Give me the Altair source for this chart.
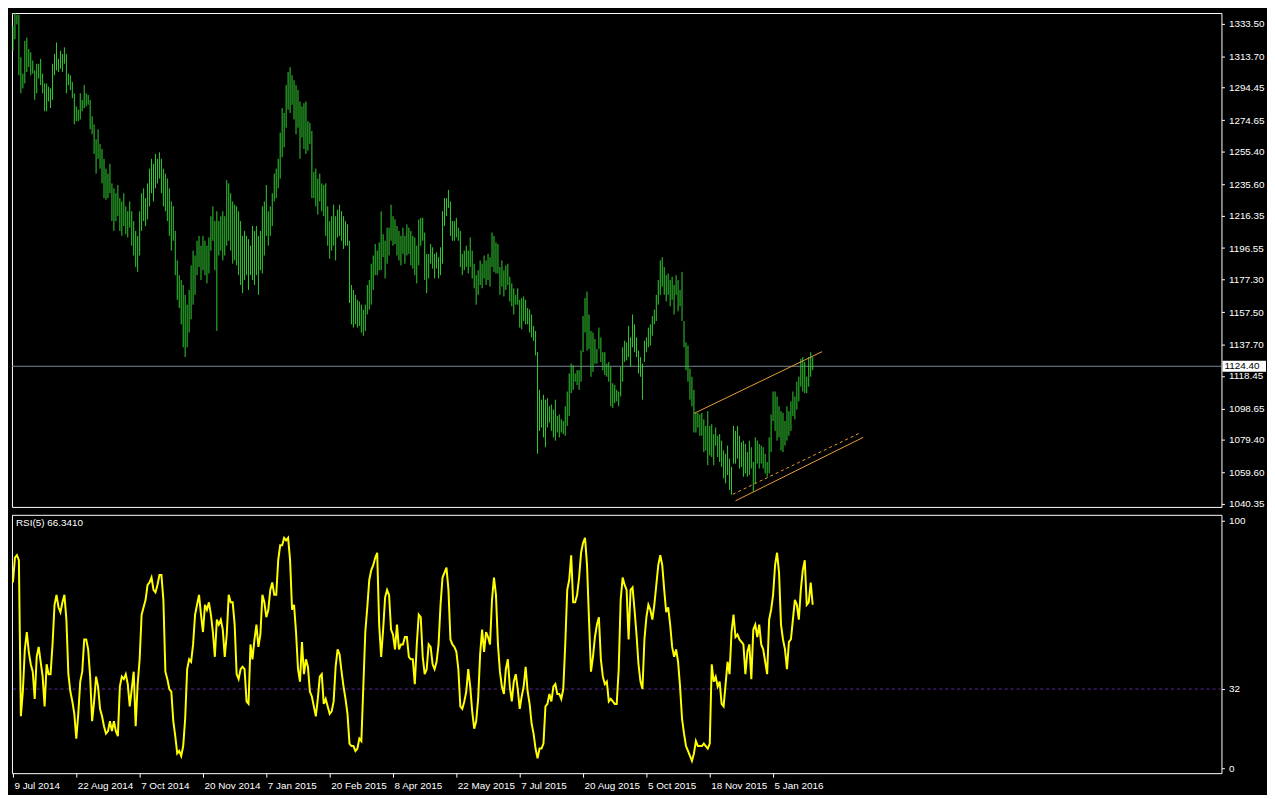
import altair as alt
import pandas as pd

# ---------------- data ----------------
bar_high = [
    1332, 1340, 1339, 1339, 1313, 1303, 1323, 1325, 1318, 1316,
    1311, 1305, 1309, 1309, 1312, 1303, 1297, 1297, 1295, 1294,
    1309, 1315, 1322, 1312, 1317, 1315, 1319, 1315, 1303, 1302,
    1298, 1291, 1283, 1281, 1291, 1287, 1296, 1291, 1290, 1287,
    1277, 1272, 1263, 1269, 1260, 1257, 1251, 1245, 1242, 1248,
    1236, 1233, 1230, 1235, 1227, 1225, 1230, 1222, 1219, 1225,
    1219, 1213, 1207, 1204, 1219, 1230, 1233, 1227, 1236, 1245,
    1251, 1248, 1254, 1251, 1255, 1251, 1245, 1242, 1239, 1233,
    1225, 1222, 1207, 1189, 1180, 1177, 1174, 1168, 1162, 1171,
    1186, 1195, 1192, 1201, 1204, 1198, 1204, 1201, 1198, 1203,
    1216, 1222, 1213, 1219, 1213, 1216, 1219, 1216, 1238, 1236,
    1230, 1225, 1223, 1222, 1219, 1213, 1204, 1207, 1204, 1202,
    1198, 1210, 1207, 1210, 1204, 1207, 1222, 1225, 1235, 1219,
    1222, 1230, 1242, 1245, 1251, 1267, 1282, 1279, 1296, 1304,
    1307, 1302, 1299, 1296, 1293, 1286, 1283, 1285, 1286, 1274,
    1273, 1268, 1243, 1245, 1239, 1242, 1236, 1235, 1236, 1222,
    1213, 1216, 1223, 1216, 1220, 1223, 1219, 1216, 1213, 1211,
    1201, 1174, 1171, 1168, 1165, 1164, 1162, 1159, 1162, 1174,
    1177, 1187, 1192, 1199, 1195, 1200, 1219, 1205, 1201, 1209,
    1209, 1223, 1216, 1214, 1210, 1207, 1204, 1209, 1204, 1211,
    1209, 1207, 1204, 1203, 1198, 1214, 1215, 1215, 1206, 1193,
    1193, 1199, 1197, 1193, 1194, 1191, 1197, 1219, 1227, 1227,
    1232, 1225, 1213, 1213, 1215, 1209, 1207, 1193, 1195, 1198,
    1195, 1203, 1195, 1187, 1180, 1183, 1189, 1187, 1192, 1189,
    1193, 1191, 1206, 1204, 1200, 1199, 1185, 1189, 1183, 1186,
    1187, 1179, 1175, 1172, 1168, 1172, 1165, 1166, 1167, 1165,
    1160, 1159, 1156, 1149, 1146, 1133, 1110, 1104, 1107, 1104,
    1105, 1100, 1101, 1098, 1104, 1094, 1095, 1092, 1091, 1100,
    1109, 1120, 1126, 1125, 1120, 1122, 1122, 1134, 1155, 1166,
    1170, 1156, 1146, 1145, 1141, 1135, 1148, 1142, 1133, 1133,
    1126, 1127, 1124, 1114, 1113, 1110, 1109, 1124, 1136, 1140,
    1139, 1149, 1142, 1156, 1150, 1142, 1134, 1130, 1126, 1140,
    1142, 1148, 1150, 1155, 1159, 1168, 1177, 1189, 1191, 1185,
    1180, 1181, 1177, 1179, 1174, 1180, 1177, 1171, 1182, 1152,
    1139, 1137, 1123, 1118, 1110, 1096, 1096, 1095, 1096, 1092,
    1088, 1097, 1088, 1089, 1083, 1087, 1082, 1083, 1079, 1073,
    1071, 1076, 1068, 1063, 1088, 1085, 1088, 1082, 1078, 1079,
    1077, 1072, 1079, 1075, 1066, 1081, 1079, 1077, 1076, 1075,
    1071, 1066, 1081, 1095, 1109, 1109, 1106, 1100, 1097, 1096,
    1091, 1100, 1097, 1103, 1109, 1106, 1115, 1118, 1129, 1130,
    1127, 1118, 1130, 1133, 1130,
]

bar_low = [
    1317, 1324, 1333, 1302, 1291, 1294, 1297, 1304, 1307, 1302,
    1303, 1287, 1291, 1300, 1296, 1291, 1280, 1280, 1286, 1282,
    1287, 1302, 1305, 1304, 1306, 1304, 1309, 1291, 1296, 1293,
    1288, 1272, 1274, 1274, 1275, 1280, 1282, 1283, 1284, 1269,
    1266, 1254, 1242, 1251, 1245, 1236, 1227, 1226, 1227, 1230,
    1213, 1207, 1213, 1216, 1207, 1204, 1210, 1205, 1203, 1209,
    1198, 1192, 1185, 1182, 1192, 1207, 1213, 1210, 1214, 1222,
    1230, 1225, 1233, 1236, 1239, 1230, 1222, 1219, 1213, 1204,
    1195, 1201, 1180, 1165, 1160, 1150, 1136, 1130, 1136, 1145,
    1153, 1162, 1168, 1180, 1185, 1177, 1183, 1180, 1175, 1181,
    1195, 1201, 1183, 1146, 1192, 1195, 1189, 1192, 1198, 1201,
    1195, 1187, 1189, 1186, 1180, 1174, 1169, 1177, 1180, 1171,
    1180, 1177, 1174, 1180, 1168, 1183, 1181, 1192, 1204, 1198,
    1204, 1210, 1225, 1227, 1233, 1239, 1252, 1258, 1270, 1281,
    1279, 1284, 1275, 1266, 1270, 1251, 1264, 1257, 1254, 1256,
    1260, 1227, 1227, 1222, 1217, 1225, 1219, 1216, 1204, 1198,
    1190, 1195, 1198, 1189, 1203, 1204, 1201, 1196, 1198, 1198,
    1163, 1150, 1148, 1150, 1148, 1149, 1145, 1143, 1146, 1156,
    1159, 1162, 1171, 1180, 1180, 1183, 1183, 1191, 1178, 1187,
    1192, 1201, 1198, 1199, 1192, 1189, 1186, 1193, 1187, 1192,
    1193, 1186, 1184, 1180, 1175, 1186, 1198, 1201, 1177, 1169,
    1178, 1187, 1184, 1178, 1184, 1178, 1180, 1187, 1210, 1216,
    1221, 1204, 1201, 1201, 1203, 1201, 1185, 1180, 1183, 1185,
    1181, 1185, 1178, 1172, 1162, 1168, 1174, 1172, 1178, 1174,
    1177, 1173, 1185, 1182, 1181, 1181, 1168, 1173, 1167, 1171,
    1174, 1164, 1161, 1156, 1162, 1162, 1148, 1147, 1152, 1150,
    1150, 1145, 1142, 1140, 1131, 1071, 1085, 1087, 1081, 1075,
    1087, 1090, 1085, 1081, 1079, 1084, 1081, 1084, 1083, 1082,
    1088, 1094, 1108, 1110, 1115, 1113, 1110, 1115, 1133, 1145,
    1134, 1135, 1118, 1121, 1126, 1126, 1135, 1127, 1122, 1119,
    1118, 1115, 1100, 1099, 1102, 1103, 1100, 1106, 1115, 1127,
    1128, 1130, 1124, 1136, 1133, 1130, 1120, 1118, 1104, 1127,
    1133, 1136, 1137, 1143, 1150, 1152, 1162, 1168, 1173, 1168,
    1164, 1168, 1161, 1165, 1156, 1168, 1158, 1161, 1152, 1136,
    1122, 1115, 1104, 1100, 1084, 1084, 1087, 1082, 1082, 1072,
    1073, 1064, 1070, 1069, 1064, 1076, 1069, 1066, 1063, 1056,
    1053, 1058, 1049, 1046, 1065, 1065, 1068, 1062, 1063, 1057,
    1059, 1057, 1058, 1062, 1048, 1053, 1065, 1062, 1065, 1062,
    1059, 1057, 1059, 1072, 1091, 1085, 1079, 1081, 1073, 1072,
    1076, 1079, 1082, 1085, 1094, 1092, 1098, 1103, 1112, 1109,
    1108, 1108, 1112, 1118, 1122,
]

rsi_values = [
    75, 85, 86, 84, 21, 31, 48, 55, 47, 42,
    39, 28, 45, 49, 43, 37, 25, 42, 38, 38,
    50, 66, 70, 65, 63, 67, 70, 60, 38, 31,
    27, 22, 12, 22, 35, 39, 52, 52, 48, 37,
    19, 27, 37, 33, 24, 21, 17, 14, 15, 19,
    15, 19, 15, 13, 33, 37, 36, 38, 34, 25,
    32, 39, 17, 34, 44, 62, 65, 68, 74, 75,
    77, 72, 71, 74, 78, 78, 68, 39, 36, 32,
    31, 19, 13, 6, 7, 5, 9, 20, 40, 44,
    43, 50, 62, 66, 70, 62, 55, 66, 64, 67,
    62, 55, 45, 60, 58, 60, 56, 45, 54, 70,
    67, 67, 58, 38, 36, 40, 41, 40, 27, 26,
    50, 44, 52, 58, 49, 54, 70, 67, 61, 64,
    72, 75, 70, 70, 84, 90, 90, 93, 92, 93,
    84, 64, 66, 55, 40, 35, 51, 38, 44, 41,
    31, 29, 25, 21, 28, 37, 38, 26, 28, 25,
    22, 23, 27, 41, 48, 46, 39, 33, 28, 22,
    10, 9, 9, 7, 8, 12, 11, 33, 55, 65,
    76, 80, 82, 85, 87, 58, 45, 56, 69, 72,
    70, 56, 54, 48, 58, 48, 50, 50, 53, 53,
    45, 44, 44, 34, 50, 62, 61, 45, 38, 40,
    50, 49, 42, 40, 43, 50, 66, 77, 79, 81,
    72, 52, 50, 49, 47, 40, 25, 24, 27, 31,
    40, 33, 23, 16, 19, 28, 46, 56, 47, 55,
    53, 50, 68, 77, 70, 50, 39, 33, 30, 40,
    44, 33, 27, 35, 38, 32, 24, 29, 33, 41,
    31, 26, 18, 14, 8, 4, 8, 8, 10, 25,
    26, 30, 27, 33, 34, 30, 30, 28, 32, 50,
    72, 76, 86, 67, 67, 70, 77, 87, 91, 93,
    82, 60, 39, 45, 53, 58, 61, 44, 37, 34,
    35, 27, 28, 27, 26, 26, 40, 68, 77, 74,
    72, 52, 72, 73, 64, 54, 42, 35, 32, 52,
    61, 66, 64, 60, 66, 74, 82, 86, 82, 72,
    63, 65, 58, 49, 45, 48, 43, 33, 20, 14,
    9, 7, 5, 3, 6, 11, 9, 9, 9, 10,
    9, 8, 10, 42, 35, 37, 33, 35, 26, 25,
    34, 43, 38, 55, 62, 53, 54, 52, 51, 50,
    38, 47, 50, 36, 56, 58, 53, 58, 50, 48,
    43, 38, 60, 64, 70, 82, 87, 79, 58, 52,
    48, 40, 51, 52, 60, 68, 66, 60, 72, 80,
    84, 66, 67, 75, 66,
]

date_labels = [
    "9 Jul 2014", "22 Aug 2014", "7 Oct 2014", "20 Nov 2014", "7 Jan 2015",
    "20 Feb 2015", "8 Apr 2015", "22 May 2015", "7 Jul 2015", "20 Aug 2015",
    "5 Oct 2015", "18 Nov 2015", "5 Jan 2016",
]
bars_per_label = 32

price_ticks = [1333.50, 1313.70, 1294.45, 1274.65, 1255.40, 1235.60, 1216.35,
               1196.55, 1177.30, 1157.50, 1137.70, 1118.45, 1098.65, 1079.40,
               1059.60, 1040.35]
rsi_ticks = [0, 32, 100]
bid_price = 1124.40
rsi_level = 32
rsi_caption = "RSI(5) 66.3410"

# trend lines drawn on the chart: (bar index, price) end points
trend_upper_i = [344, 408.7]
trend_upper_p = [1095.6, 1133.3]
trend_lower_i = [365, 429.5]
trend_lower_p = [1042.3, 1081.0]
trend_dash_i = [363.7, 428.4]
trend_dash_p = [1046.3, 1084.0]

assert len(bar_high) == len(bar_low) == len(rsi_values)

# ---------------- chart ----------------
W = 1222
H1 = 499
H2 = 261
FONT = "Liberation Sans"
GREEN = "#32cd32"
ORANGE = "#e8a03a"

n = len(bar_high)
bars = pd.DataFrame({"i": list(range(n)), "high": bar_high, "low": bar_low})
rsi_df = pd.DataFrame({"i": list(range(n)), "rsi": rsi_values})
trend_solid = pd.DataFrame({
    "i": trend_upper_i + trend_lower_i,
    "p": trend_upper_p + trend_lower_p,
    "line": ["upper", "upper", "lower", "lower"],
})
trend_dash = pd.DataFrame({"i": trend_dash_i, "p": trend_dash_p})
bid_df = pd.DataFrame({"p": [bid_price], "top": [bid_price + 3.3],
                       "bot": [bid_price - 3.3], "label": [f"{bid_price:.2f}"]})

# two pixels per bar
xscale = alt.Scale(domain=[-0.5, W / 2 - 0.5], nice=False, zero=False)
pscale = alt.Scale(domain=[1038.57, 1340.0], nice=False, zero=False)
rscale = alt.Scale(domain=[-1.95, 102.3], nice=False, zero=False)

price_axis = alt.Axis(orient="right", values=price_ticks, format=".2f", title=None,
                      grid=False, domain=False, tickSize=3, labelPadding=4,
                      labelFontSize=10, labelColor="white", tickColor="white",
                      labelFont=FONT, labelOverlap=False, labelBound=False,
                      labelFlush=False)
rsi_axis = alt.Axis(orient="right", values=rsi_ticks, format="d", title=None,
                    grid=False, domain=False, tickSize=3, labelPadding=4,
                    labelFontSize=10, labelColor="white", tickColor="white",
                    labelFont=FONT, labelOverlap=False, labelFlush=False)
labels_js = "[" + ",".join("'" + s + "'" for s in date_labels) + "]"
x_axis = alt.Axis(values=[k * bars_per_label for k in range(len(date_labels))],
                  labelExpr=f"{labels_js}[round(datum.value / {bars_per_label})]",
                  title=None, grid=False, domain=False, tickSize=4, labelPadding=3,
                  labelAlign="left", labelOffset=1, labelFontSize=10,
                  labelColor="white", tickColor="white", labelFont=FONT,
                  labelOverlap=False, labelFlush=False, labelBound=False)

X_P = alt.X("i:Q", scale=xscale, axis=None)

bid_line = alt.Chart(bid_df).mark_rule(color="#778899", strokeWidth=1).encode(
    y=alt.Y("p:Q", scale=pscale, axis=price_axis))

price_bars = alt.Chart(bars).mark_rule(color=GREEN, strokeWidth=1).encode(
    x=X_P,
    y=alt.Y("low:Q", scale=pscale, axis=price_axis),
    y2="high:Q")

trend1 = alt.Chart(trend_solid).mark_line(color=ORANGE, strokeWidth=1).encode(
    x=X_P, y=alt.Y("p:Q", scale=pscale, axis=price_axis), detail="line:N")
trend2 = alt.Chart(trend_dash).mark_line(color=ORANGE, strokeWidth=1,
                                         strokeDash=[3, 3]).encode(
    x=X_P, y=alt.Y("p:Q", scale=pscale, axis=price_axis))

bid_box = alt.Chart(bid_df).mark_rect(color="white").encode(
    x=alt.value(W + 1), x2=alt.value(W + 45),
    y=alt.Y("top:Q", scale=pscale, axis=price_axis), y2="bot:Q")
bid_text = alt.Chart(bid_df).mark_text(align="left", baseline="middle", color="black",
                                       font=FONT, fontSize=10).encode(
    x=alt.value(W + 3), y=alt.Y("p:Q", scale=pscale, axis=price_axis), text="label:N")

top = alt.layer(bid_line, price_bars, trend1, trend2, bid_box, bid_text).properties(
    width=W, height=H1)

rsi_line = alt.Chart(rsi_df).mark_line(color="#ffff00", strokeWidth=2,
                                       strokeJoin="miter").encode(
    x=alt.X("i:Q", scale=xscale, axis=x_axis),
    y=alt.Y("rsi:Q", scale=rscale, axis=rsi_axis))
level = alt.Chart(pd.DataFrame({"lvl": [rsi_level]})).mark_rule(
    color="#5a2ca0", strokeWidth=1, strokeDash=[3, 3]).encode(
    y=alt.Y("lvl:Q", scale=rscale, axis=rsi_axis))
caption = alt.Chart(pd.DataFrame({"t": [rsi_caption]})).mark_text(
    align="left", baseline="middle", color="white", font=FONT, fontSize=10).encode(
    x=alt.value(4), y=alt.value(8), text="t:N")

bottom = alt.layer(level, rsi_line, caption).properties(width=W, height=H2)

chart = alt.vconcat(top, bottom, spacing=4).properties(
    padding={"left": 0, "right": 0, "top": 0, "bottom": 0}
).configure(background="black").configure_view(stroke="white", strokeWidth=1)

chart.save("out.html", embed_options={"renderer": "svg", "actions": False})
